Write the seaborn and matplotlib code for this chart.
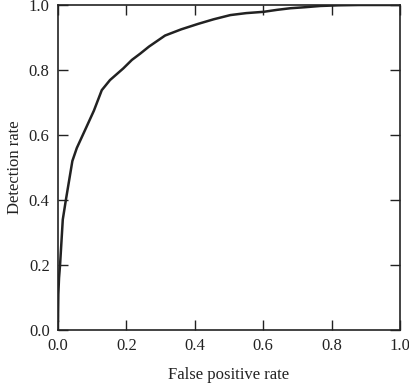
import matplotlib
matplotlib.use("Agg")
import matplotlib.pyplot as plt
import seaborn as sns
import pandas as pd

fpr = [0.0, 0.0, 0.001, 0.003, 0.006, 0.014, 0.023, 0.042, 0.055, 0.079, 0.105, 0.128, 0.152,
       0.191, 0.216, 0.240, 0.266, 0.313, 0.360, 0.410, 0.455, 0.504, 0.550, 0.601, 0.640,
       0.679, 0.720, 0.767, 0.820, 0.880, 0.940, 1.0]
tpr = [0.0, 0.05, 0.11, 0.16, 0.20, 0.34, 0.40, 0.52, 0.56, 0.615, 0.675, 0.738, 0.769,
       0.805, 0.831, 0.850, 0.872, 0.906, 0.925, 0.942, 0.956, 0.969, 0.975, 0.979, 0.985,
       0.990, 0.993, 0.997, 0.999, 1.0, 1.0, 1.0]
ticks = [0.0, 0.2, 0.4, 0.6, 0.8, 1.0]

sns.set_style("ticks")
plt.rcParams['font.family'] = ['Liberation Serif', 'DejaVu Serif']

df = pd.DataFrame({"fpr": fpr, "tpr": tpr})
fig = plt.figure(figsize=(4.10, 3.84), dpi=100)
ax = fig.add_axes([58/410, 1-330/384, 342/410, 325/384])
sns.lineplot(data=df, x="fpr", y="tpr", ax=ax, color="#222222", linewidth=1.8, sort=False)
ax.set_xlim(0, 1)
ax.set_ylim(0, 1)
ax.set_xticks(ticks)
ax.set_yticks(ticks)
ax.set_xticklabels([f"{t:.1f}" for t in ticks])
ax.set_yticklabels([f"{t:.1f}" for t in ticks])
ax.tick_params(direction="in", length=7, width=1.0, top=True, right=True,
               labelsize=12, pad=6, colors="#222222")
for s in ax.spines.values():
    s.set_visible(True)
    s.set_linewidth(1.2)
    s.set_color("#222222")
ax.set_xlabel("False positive rate", fontsize=12, labelpad=9, color="#222222")
ax.set_ylabel("Detection rate", fontsize=12, labelpad=4, color="#222222")
fig.savefig("out.png", dpi=100)
